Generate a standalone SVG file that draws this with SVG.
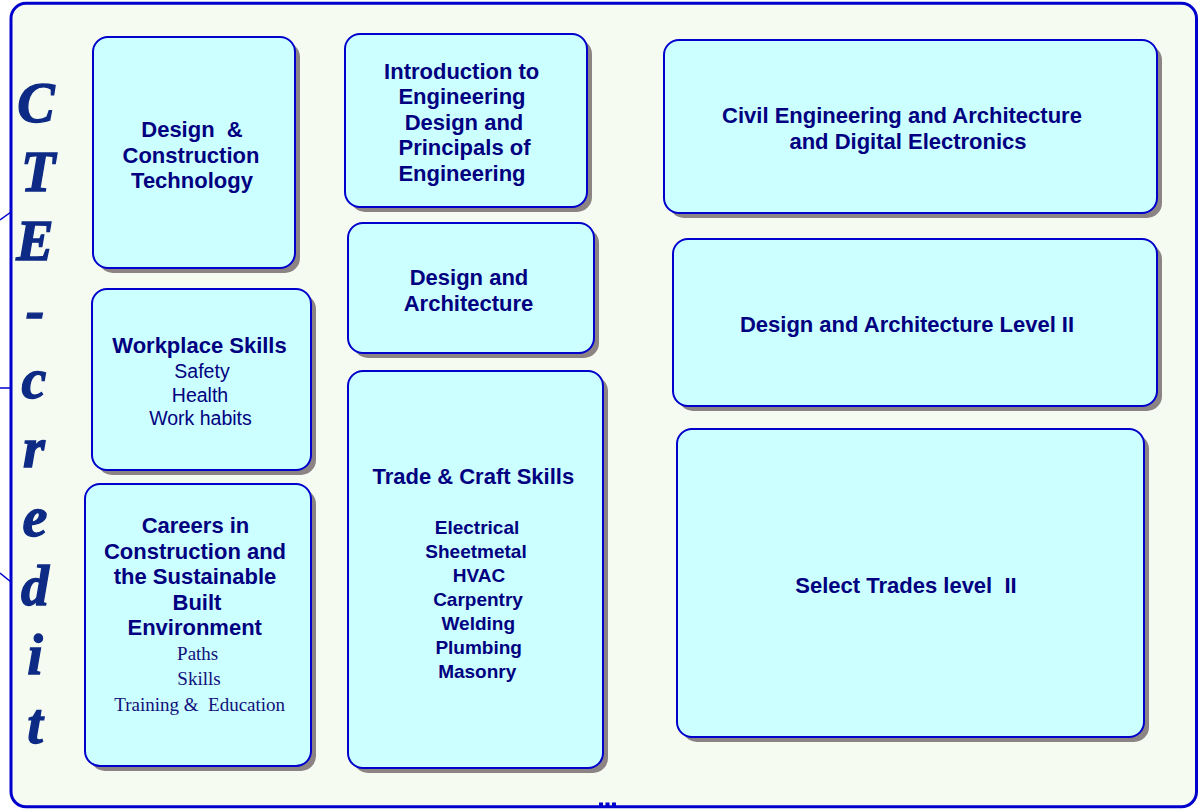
<svg xmlns="http://www.w3.org/2000/svg" width="1199" height="810" viewBox="0 0 1199 810">
<style>
.box{fill:#ccffff;stroke:#0000cc;stroke-width:2}
.sh{fill:#8c8484}
.t{font-family:"Liberation Sans",Arial,sans-serif;font-weight:bold;font-size:22px;fill:#000080;text-anchor:middle}
.s{font-family:"Liberation Sans",Arial,sans-serif;font-size:19.5px;fill:#000080;text-anchor:middle}
.b{font-family:"Liberation Sans",Arial,sans-serif;font-weight:bold;font-size:19px;fill:#000080;text-anchor:middle}
.r{font-family:"Liberation Serif","Times New Roman",serif;font-size:19px;fill:#10107a;text-anchor:middle}
.cte{font-family:"Liberation Serif","Times New Roman",serif;font-weight:bold;font-style:italic;font-size:56px;fill:#0d2a85;stroke:#0d2a85;stroke-width:1.3;text-anchor:middle}
.ln{stroke:#0000cc;stroke-width:1.5;fill:none}
</style>
<rect x="0" y="0" width="1199" height="810" fill="#ffffff"/>
<g id="frame">
<rect x="11" y="3.3" width="1185.5" height="803.5" rx="15" fill="#f5fbf0" stroke="#0000cc" stroke-width="3"/>
<rect x="599" y="802.5" width="4" height="4" fill="#0000cc"/>
<rect x="605.5" y="802.5" width="4" height="4" fill="#0000cc"/>
<rect x="612" y="802.5" width="4" height="4" fill="#0000cc"/>
</g>
<g id="connectors">
<line class="ln" x1="0" y1="220" x2="11" y2="212"/>
<line class="ln" x1="0" y1="388" x2="11" y2="388"/>
<line class="ln" x1="0" y1="573" x2="11" y2="582"/>
</g>
<g id="cte-credit">
<text class="cte" x="36" y="122">C</text>
<text class="cte" x="38" y="191">T</text>
<text class="cte" x="35" y="260">E</text>
<text class="cte" x="35" y="329">-</text>
<text class="cte" x="34" y="398">c</text>
<text class="cte" x="34" y="467">r</text>
<text class="cte" x="35" y="536">e</text>
<text class="cte" x="35" y="605">d</text>
<text class="cte" x="35" y="674">i</text>
<text class="cte" x="35" y="743">t</text>
</g>
<g id="design-construction">
<rect class="sh" x="98" y="42" width="202" height="231" rx="15"/>
<rect class="box" x="93" y="37" width="202" height="231" rx="15"/>
<text class="t" x="192" y="137" xml:space="preserve">Design  &amp;</text>
<text class="t" x="191" y="163">Construction</text>
<text class="t" x="192" y="188">Technology</text>
</g>
<g id="workplace-skills">
<rect class="sh" x="97" y="294" width="219" height="181" rx="15"/>
<rect class="box" x="92" y="289" width="219" height="181" rx="15"/>
<text class="t" x="199.5" y="353">Workplace Skills</text>
<text class="s" x="202" y="378">Safety</text>
<text class="s" x="200" y="401.5">Health</text>
<text class="s" x="200.5" y="425">Work habits</text>
</g>
<g id="careers">
<rect class="sh" x="90" y="489" width="226" height="282" rx="15"/>
<rect class="box" x="85" y="484" width="226" height="282" rx="15"/>
<text class="t" x="195.5" y="533">Careers in</text>
<text class="t" x="195" y="558.5">Construction and</text>
<text class="t" x="195" y="584">the Sustainable</text>
<text class="t" x="197" y="609.5">Built</text>
<text class="t" x="194.7" y="635">Environment</text>
<text class="r" x="197.7" y="660">Paths</text>
<text class="r" x="199" y="685">Skills</text>
<text class="r" x="199.7" y="710.5" xml:space="preserve">Training &amp;  Education</text>
</g>
<g id="intro-engineering">
<rect class="sh" x="350" y="39" width="242" height="173" rx="15"/>
<rect class="box" x="345" y="34" width="242" height="173" rx="15"/>
<text class="t" x="461.7" y="78.5">Introduction to</text>
<text class="t" x="462" y="104">Engineering</text>
<text class="t" x="464" y="129.5">Design and</text>
<text class="t" x="464.5" y="155">Principals of</text>
<text class="t" x="462" y="180.5">Engineering</text>
</g>
<g id="design-architecture">
<rect class="sh" x="353" y="228" width="246" height="130" rx="15"/>
<rect class="box" x="348" y="223" width="246" height="130" rx="15"/>
<text class="t" x="469" y="285">Design and</text>
<text class="t" x="468.5" y="311">Architecture</text>
</g>
<g id="trade-craft">
<rect class="sh" x="353" y="376" width="255" height="397" rx="15"/>
<rect class="box" x="348" y="371" width="255" height="397" rx="15"/>
<text class="t" x="473.3" y="484">Trade &amp; Craft Skills</text>
<text class="b" x="477" y="534">Electrical</text>
<text class="b" x="476" y="558">Sheetmetal</text>
<text class="b" x="479" y="582">HVAC</text>
<text class="b" x="478" y="606">Carpentry</text>
<text class="b" x="478.3" y="630">Welding</text>
<text class="b" x="478.7" y="654">Plumbing</text>
<text class="b" x="477.2" y="678">Masonry</text>
</g>
<g id="civil-engineering">
<rect class="sh" x="669" y="45" width="493" height="173" rx="15"/>
<rect class="box" x="664" y="40" width="493" height="173" rx="15"/>
<text class="t" x="902" y="123">Civil Engineering and Architecture</text>
<text class="t" x="908" y="149">and Digital Electronics</text>
</g>
<g id="design-architecture-2">
<rect class="sh" x="678" y="244" width="484" height="167" rx="15"/>
<rect class="box" x="673" y="239" width="484" height="167" rx="15"/>
<text class="t" x="907" y="332">Design and Architecture Level II</text>
</g>
<g id="select-trades">
<rect class="sh" x="682" y="434" width="467" height="308" rx="15"/>
<rect class="box" x="677" y="429" width="467" height="308" rx="15"/>
<text class="t" x="906" y="593" xml:space="preserve">Select Trades level  II</text>
</g>
</svg>
